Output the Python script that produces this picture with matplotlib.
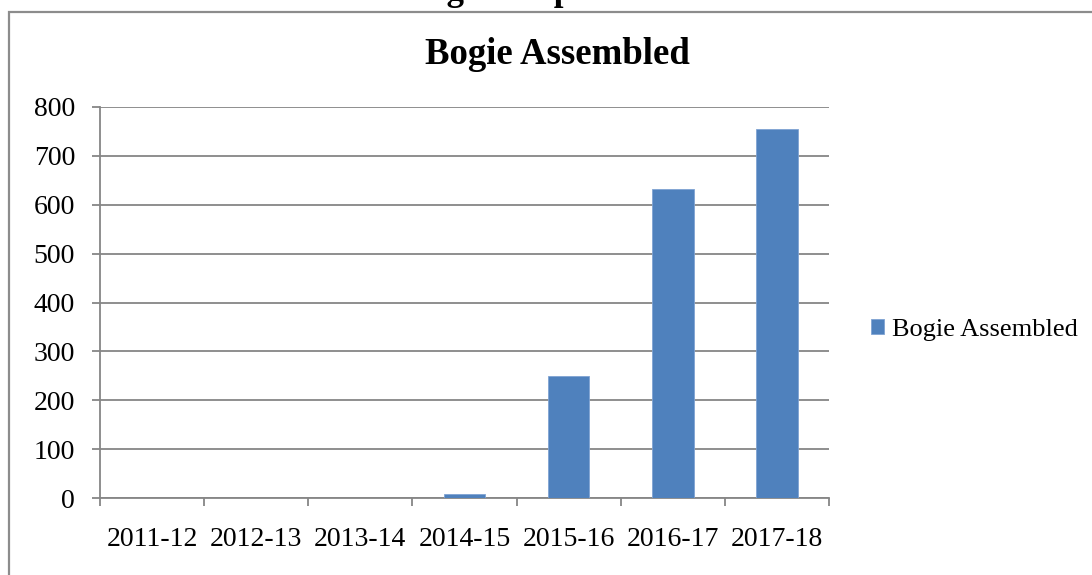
import numpy as np
import matplotlib.pyplot as plt
from matplotlib.patches import Rectangle

years = ['2011-12', '2012-13', '2013-14', '2014-15', '2015-16', '2016-17', '2017-18']
assembled = [0, 0, 0, 8, 250, 632, 754]
yticks = [0, 100, 200, 300, 400, 500, 600, 700, 800]

plt.rcParams['font.family'] = ['Liberation Serif', 'DejaVu Serif']

fig = plt.figure(figsize=(10.92, 5.75), dpi=100)
W, H = 1092, 575

# outer chart frame (runs off the right and bottom edges)
fig.patches.append(Rectangle((9 / W, -0.05), 1.1, 1 - 12 / H + 0.05,
                             transform=fig.transFigure, fill=False,
                             edgecolor='#8c8c8c', lw=1.6))

# heading of the document above, cut off at the top
fig.text(406 / W, 1.0, 'Bogie Shop', fontsize=25, fontweight='bold',
         ha='left', va='baseline')

ax = fig.add_axes([100 / W, 1 - 498 / H, 729 / W, (498 - 107) / H])
x = np.arange(len(years))
ax.bar(x, assembled, width=0.4, color='#4F81BD', edgecolor='#7FA3D3', lw=0.6,
       label='Bogie Assembled', zorder=3)

ax.set_xlim(-0.5, len(years) - 0.5)
ax.set_ylim(0, 800)
ax.set_yticks(yticks)
ax.set_xticks(x)
ax.set_xticklabels(years)
ax.set_xticks(np.arange(-0.5, len(years)), minor=True)
ax.tick_params(axis='x', which='major', length=0, pad=21, labelsize=20)
ax.tick_params(axis='x', which='minor', length=6, width=1.3, color='#868686',
               direction='out')
ax.tick_params(axis='y', length=6, width=1.3, color='#868686', pad=12,
               labelsize=20)

ax.grid(axis='y', color='#868686', lw=1.3, zorder=0)
for s in ['top', 'right']:
    ax.spines[s].set_visible(False)
for s in ['left', 'bottom']:
    ax.spines[s].set_color('#868686')
    ax.spines[s].set_linewidth(1.3)

fig.text(557 / W, 1 - 55 / H, 'Bogie Assembled', fontsize=26.5,
         fontweight='bold', ha='center', va='center')

fig.legend(loc='center left', bbox_to_anchor=(871 / W, 1 - 330 / H),
           frameon=False, fontsize=19, handlelength=0.5, handleheight=0.5,
           handletextpad=0.3, borderpad=0, borderaxespad=0)

fig.savefig('out.png', dpi=100)
